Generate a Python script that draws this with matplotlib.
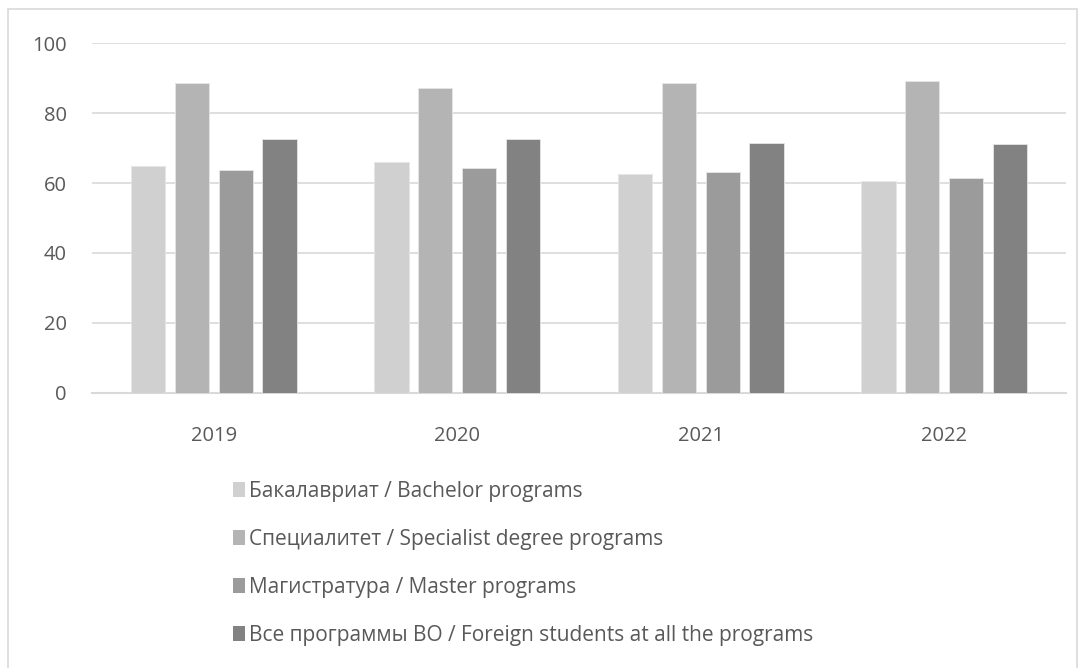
import matplotlib
matplotlib.use("Agg")
import matplotlib.pyplot as plt
import numpy as np
from matplotlib.patches import Rectangle, Patch

years = ["2019", "2020", "2021", "2022"]
series_names = [
    "Бакалавриат / Bachelor programs",
    "Специалитет / Specialist degree programs",
    "Магистратура / Master programs",
    "Все программы ВО / Foreign students at all the programs",
]
bachelor = [65.0, 66.1, 62.7, 60.7]
specialist = [88.7, 87.3, 88.7, 89.3]
master = [63.8, 64.2, 63.1, 61.5]
all_programs = [72.6, 72.7, 71.5, 71.1]
yticks = [0, 20, 40, 60, 80, 100]

colors = ["#d0d0d0", "#b4b4b4", "#9b9b9b", "#828282"]
text_color = "#595959"

plt.rcParams['font.family'] = ['Open Sans', 'DejaVu Sans']

fig = plt.figure(figsize=(10.84, 6.68), dpi=100)
W, H = 1084, 668
ax = fig.add_axes([92 / W, 1 - 392.7 / H, (1066 - 92) / W, (392.7 - 43.3) / H])

x = np.arange(len(years))
bw = 0.14
step = 0.18
data = [bachelor, specialist, master, all_programs]
for i, (vals, c) in enumerate(zip(data, colors)):
    ax.bar(x + (i - 1.5) * step, vals, width=bw, color=c, edgecolor="#e6e6e6",
           linewidth=0.6, zorder=3, label=series_names[i])

ax.set_xlim(-0.5, 3.5)
ax.set_ylim(0, 100)
ax.set_yticks(yticks)
ax.set_yticklabels([str(v) for v in yticks])
ax.set_xticks(x)
ax.set_xticklabels(years)
ax.yaxis.grid(True, color="#d9d9d9", linewidth=1.2, zorder=0)
ax.set_axisbelow(True)
for s in ["top", "right", "left"]:
    ax.spines[s].set_visible(False)
ax.spines["bottom"].set_color("#d9d9d9")
ax.spines["bottom"].set_linewidth(1.5)
ax.tick_params(axis="both", length=0, labelsize=14.5, colors=text_color)
ax.tick_params(axis="y", pad=18)
ax.tick_params(axis="x", pad=24)

handles = [Patch(facecolor=c, edgecolor="none") for c in colors]
leg = fig.legend(handles, series_names, loc="upper left",
                 bbox_to_anchor=(214 / W, 1 - 462 / H), frameon=False,
                 fontsize=15, labelcolor=text_color, handlelength=0.6,
                 handleheight=0.7, handletextpad=0.2, labelspacing=1.3)

fig.patches.append(Rectangle((8 / W, -0.01), (1077 - 8) / W, 1 - 9 / H + 0.01,
                             transform=fig.transFigure, fill=False,
                             edgecolor="#d9d9d9", linewidth=1.2))

fig.savefig("out.png", dpi=100)
